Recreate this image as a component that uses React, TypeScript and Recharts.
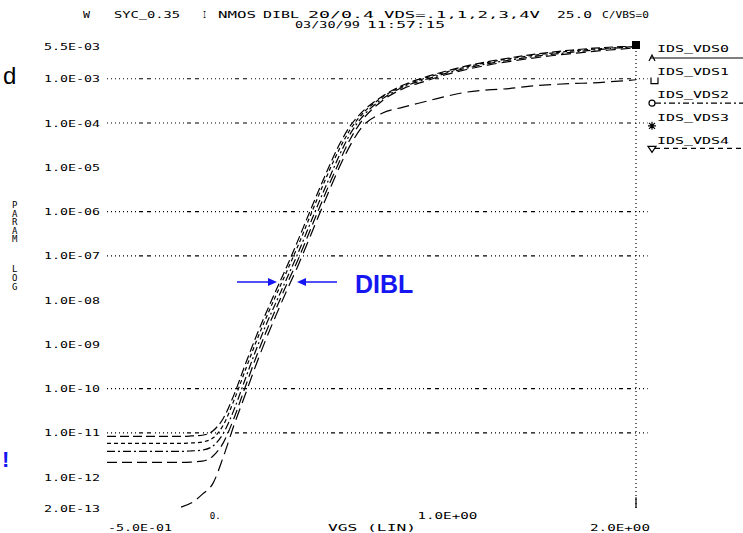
import React from "react";
import {
  Line,
  LineChart,
  ReferenceDot,
  ReferenceLine,
  XAxis,
  YAxis,
} from "recharts";

// VGS sweep (V)
const vgs = [
  -0.5, -0.4, -0.3, -0.2, -0.15, -0.1, -0.05, 0, 0.05, 0.1, 0.15, 0.2, 0.25, 0.3,
  0.35, 0.4, 0.45, 0.5, 0.55, 0.6, 0.65, 0.7, 0.8, 0.9, 1.0, 1.1, 1.2, 1.3, 1.4,
  1.5, 1.6, 1.7, 1.8, 1.9, 2.0,
];

// IDS (A), one list per drain bias
const idsVds0 = [
  null, null, null, null, 2.1e-13, 2.63e-13, 4.07e-13, 7.1e-13, 2.88e-12, 1.48e-11,
  6.6e-11, 3.02e-10, 1.26e-9, 4.68e-9, 1.66e-8, 5.6e-8, 2.09e-7, 7.9e-7, 2.95e-6,
  1.05e-5, 3.16e-5, 7.6e-5, 1.66e-4, 2.29e-4, 3.02e-4, 3.98e-4, 5.0e-4, 5.6e-4,
  6.0e-4, 6.8e-4, 7.4e-4, 7.8e-4, 8.1e-4, 8.7e-4, 9.5e-4,
];
const idsVds1 = [
  2.14e-12, 2.14e-12, 2.14e-12, 2.14e-12, 2.14e-12, 2.19e-12, 2.29e-12, 2.95e-12,
  6.0e-12, 2.14e-11, 9.8e-11, 4.47e-10, 1.82e-9, 6.6e-9, 2.29e-8, 7.6e-8, 2.88e-7,
  1.1e-6, 4.07e-6, 1.41e-5, 4.37e-5, 1.05e-4, 3.16e-4, 6.0e-4, 8.7e-4, 1.23e-3,
  1.62e-3, 2.04e-3, 2.45e-3, 2.88e-3, 3.31e-3, 3.72e-3, 4.17e-3, 4.57e-3, 5.0e-3,
];
const idsVds2 = [
  3.8e-12, 3.8e-12, 3.8e-12, 3.8e-12, 3.8e-12, 3.9e-12, 4.07e-12, 5.0e-12, 9.8e-12,
  3.3e-11, 1.48e-10, 6.6e-10, 2.63e-9, 9.1e-9, 3.09e-8, 1.07e-7, 4.07e-7, 1.55e-6,
  5.6e-6, 1.95e-5, 5.75e-5, 1.26e-4, 3.47e-4, 6.5e-4, 9.5e-4, 1.32e-3, 1.74e-3,
  2.19e-3, 2.63e-3, 3.09e-3, 3.55e-3, 3.98e-3, 4.47e-3, 4.9e-3, 5.25e-3,
];
const idsVds3 = [
  5.75e-12, 5.75e-12, 5.75e-12, 5.75e-12, 5.75e-12, 5.9e-12, 6.2e-12, 7.6e-12,
  1.51e-11, 5.4e-11, 2.34e-10, 1.0e-9, 3.8e-9, 1.32e-8, 4.47e-8, 1.58e-7, 6.0e-7,
  2.29e-6, 8.3e-6, 2.69e-5, 7.2e-5, 1.48e-4, 3.8e-4, 6.9e-4, 1.02e-3, 1.41e-3,
  1.86e-3, 2.34e-3, 2.82e-3, 3.31e-3, 3.8e-3, 4.27e-3, 4.68e-3, 5.0e-3, 5.37e-3,
];
const idsVds4 = [
  8.3e-12, 8.3e-12, 8.3e-12, 8.3e-12, 8.3e-12, 8.5e-12, 8.8e-12, 1.1e-11, 2.14e-11,
  7.2e-11, 3.16e-10, 1.32e-9, 4.9e-9, 1.7e-8, 5.75e-8, 2.09e-7, 7.9e-7, 2.95e-6,
  1.05e-5, 3.39e-5, 8.7e-5, 1.66e-4, 3.98e-4, 7.2e-4, 1.07e-3, 1.48e-3, 1.95e-3,
  2.45e-3, 2.95e-3, 3.47e-3, 3.98e-3, 4.47e-3, 4.9e-3, 5.25e-3, 5.5e-3,
];

const seriesNames = ["IDS_VDS0", "IDS_VDS1", "IDS_VDS2", "IDS_VDS3", "IDS_VDS4"];

const yTicks = [5.5e-3, 1e-3, 1e-4, 1e-5, 1e-6, 1e-7, 1e-8, 1e-9, 1e-10, 1e-11, 1e-12, 2e-13];
const yTickLabels = [
  "5.5E-03", "1.0E-03", "1.0E-04", "1.0E-05", "1.0E-06", "1.0E-07",
  "1.0E-08", "1.0E-09", "1.0E-10", "1.0E-11", "1.0E-12", "2.0E-13",
];
const gridDecades = [1e-3, 1e-4, 1e-6, 1e-7, 1e-10, 1e-11];

const xTicks = [-0.5, 0, 1, 2];
const xTickLabels = ["-5.0E-01", "0.", "1.0E+00", "2.0E+00"];
const xAxisTitle = "VGS   (LIN)";
const yAxisTitle = ["P", "A", "R", "A", "M", "L", "O", "G"];

const titleParts = ["W", "SYC_0.35", "I", "NMOS", "DIBL", "20/0.4", "VDS=.1,1,2,3,4V", "25.0", "C/VBS=0"];
const dateParts = ["03/30/99", "11:57:15"];

const rows = vgs.map((v, i) => ({
  vgs: v,
  vds0: idsVds0[i],
  vds1: idsVds1[i],
  vds2: idsVds2[i],
  vds3: idsVds3[i],
  vds4: idsVds4[i],
}));

const PIX = "'DejaVu Sans Mono', monospace";
const SANS = "'Liberation Sans', Arial, sans-serif";
const BLUE = "#1616f2";
const GRID_DASH = "1 3 1 3 1 3 1 3 1 3 1 3 1 3 1 3 4 4 4 4";

function YTick(props: any) {
  const i = yTicks.indexOf(props.payload.value);
  return (
    <text x={44} y={props.y + 3.5} textLength={56} lengthAdjust="spacingAndGlyphs"
      fontFamily={PIX} fontSize={9} fill="#000">
      {yTickLabels[i]}
    </text>
  );
}

const xTickPos = [
  { dx: 1, y: 531, w: 64 },
  { dx: -3, y: 519, w: 11 },
  { dx: -7, y: 519, w: 60 },
  { dx: -46, y: 531, w: 60 },
];

function XTick(props: any) {
  const i = xTicks.indexOf(props.payload.value);
  const p = xTickPos[i];
  return (
    <text x={props.x + p.dx} y={p.y} textLength={p.w} lengthAdjust="spacingAndGlyphs"
      fontFamily={PIX} fontSize={9} fill="#000">
      {xTickLabels[i]}
    </text>
  );
}

const legendLines = ["", "", "6 3 2 3", "", "5 4"];

function Marker({ kind, y }: { kind: number; y: number }) {
  const s = { fill: "none", stroke: "#000", strokeWidth: 1.2 };
  if (kind === 0) return <path d={`M4,${y + 3} L7,${y - 3} L10,${y + 3}`} {...s} />;
  if (kind === 1) return <path d={`M6,${y - 3} V${y + 3} H13 V${y - 3}`} {...s} />;
  if (kind === 2) return <circle cx={7} cy={y} r={3} {...s} />;
  if (kind === 3)
    return <path d={`M7,${y - 4} V${y + 4} M3,${y} H11 M4,${y - 3} L10,${y + 3} M10,${y - 3} L4,${y + 3}`} {...s} />;
  return <path d={`M3,${y - 2} H11 L7,${y + 4} Z`} {...s} />;
}

function LegendBox() {
  return (
    <g transform="translate(645,38)">
      {seriesNames.map((name, i) => {
        const base = 14 + 23 * i;
        const ly = 20 + 22.6 * i;
        return (
          <g key={name}>
            <text x={12} y={base} textLength={72} lengthAdjust="spacingAndGlyphs"
              fontFamily={PIX} fontSize={9} fill="#000">
              {name}
            </text>
            {i === 0 && <line x1={5} x2={98} y1={ly} y2={ly} stroke="#000" strokeWidth={1.2} />}
            {legendLines[i] && (
              <line x1={10} x2={98} y1={ly} y2={ly} stroke="#000" strokeWidth={1.2}
                strokeDasharray={legendLines[i]} />
            )}
            <Marker kind={i} y={ly} />
          </g>
        );
      })}
    </g>
  );
}

export default function App() {
  const titleX = [83, 114, 203, 218, 263, 308, 384, 557, 602];
  const titleW = [7, 66, 3, 38, 36, 66, 156, 35, 47];
  return (
    <div style={{ position: "absolute", left: 0, top: 0, width: 743, height: 533, background: "#fff" }}>
      <LineChart width={743} height={533} data={rows}
        margin={{ top: 46, right: 107, bottom: 0, left: 0 }}>
        <XAxis type="number" dataKey="vgs" domain={[-0.5, 2]} ticks={xTicks} interval={0}
          tick={XTick} axisLine={false} tickLine={false} height={25} allowDataOverflow />
        <YAxis type="number" scale="log" domain={[2e-13, 5.5e-3]} ticks={yTicks} interval={0}
          tick={YTick} axisLine={false} tickLine={false} width={107} allowDataOverflow />
        {gridDecades.map((d) => (
          <ReferenceLine key={d} segment={[{ x: -0.5, y: d }, { x: 2.055, y: d }]}
            stroke="#000" strokeWidth={1.2} strokeDasharray={GRID_DASH} ifOverflow="visible" />
        ))}
        <ReferenceLine x={2} stroke="#000" strokeWidth={1.2} strokeDasharray="1 3" />
        <ReferenceLine segment={[{ x: 2, y: 2e-13 }, { x: 2, y: 3.5e-13 }]}
          stroke="#000" strokeWidth={1.2} ifOverflow="visible" />
        <Line dataKey="vds0" name={seriesNames[0]} type="monotone" stroke="#000" strokeWidth={1.2}
          strokeDasharray="12 6" dot={false} isAnimationActive={false} />
        <Line dataKey="vds1" name={seriesNames[1]} type="monotone" stroke="#000" strokeWidth={1.2}
          strokeDasharray="10 5" dot={false} isAnimationActive={false} />
        <Line dataKey="vds2" name={seriesNames[2]} type="monotone" stroke="#000" strokeWidth={1.2}
          strokeDasharray="8 3 2 3" dot={false} isAnimationActive={false} />
        <Line dataKey="vds3" name={seriesNames[3]} type="monotone" stroke="#000" strokeWidth={1.2}
          strokeDasharray="4 3" dot={false} isAnimationActive={false} />
        <Line dataKey="vds4" name={seriesNames[4]} type="monotone" stroke="#000" strokeWidth={1.2}
          strokeDasharray="9 4" dot={false} isAnimationActive={false} />
        <ReferenceDot x={2} y={5.5e-3} r={4} ifOverflow="visible"
          shape={(p: any) => <rect x={p.cx - 4} y={p.cy - 5} width={8} height={8} fill="#000" />} />
      </LineChart>

      <svg width={743} height={533}
        style={{ position: "absolute", left: 0, top: 0, pointerEvents: "none" }}>
        <LegendBox />
        {titleParts.map((t, i) => (
          <text key={t} x={titleX[i]} y={18} textLength={titleW[i]} lengthAdjust="spacingAndGlyphs"
            fontFamily={PIX} fontSize={9} fill="#000">{t}</text>
        ))}
        <text x={295} y={28} textLength={65} lengthAdjust="spacingAndGlyphs"
          fontFamily={PIX} fontSize={9} fill="#000">{dateParts[0]}</text>
        <text x={367} y={28} textLength={78} lengthAdjust="spacingAndGlyphs"
          fontFamily={PIX} fontSize={9} fill="#000">{dateParts[1]}</text>
        <text x={328} y={531} textLength={88} lengthAdjust="spacingAndGlyphs"
          fontFamily={PIX} fontSize={9} fill="#000">{xAxisTitle}</text>
        {yAxisTitle.map((c, i) => (
          <text key={i} x={12} y={[208, 216.5, 225, 233.5, 242, 272, 281, 290][i]}
            fontFamily={PIX} fontSize={9} fill="#000">{c}</text>
        ))}
        <text x={3} y={84} fontFamily={SANS} fontSize={24} fill="#000">d</text>
        <text x={2} y={467} fontFamily={SANS} fontSize={22} fontWeight="bold" fill={BLUE}>!</text>
        <text x={355} y={293} fontFamily={SANS} fontSize={25} fontWeight="bold" fill={BLUE}>DIBL</text>
        <line x1={237} x2={270} y1={282} y2={282} stroke={BLUE} strokeWidth={1.5} />
        <path d="M277,282 L268,278 L268,286 Z" fill={BLUE} />
        <line x1={337} x2={305} y1={282} y2={282} stroke={BLUE} strokeWidth={1.5} />
        <path d="M297,282 L306,278 L306,286 Z" fill={BLUE} />
      </svg>
    </div>
  );
}
